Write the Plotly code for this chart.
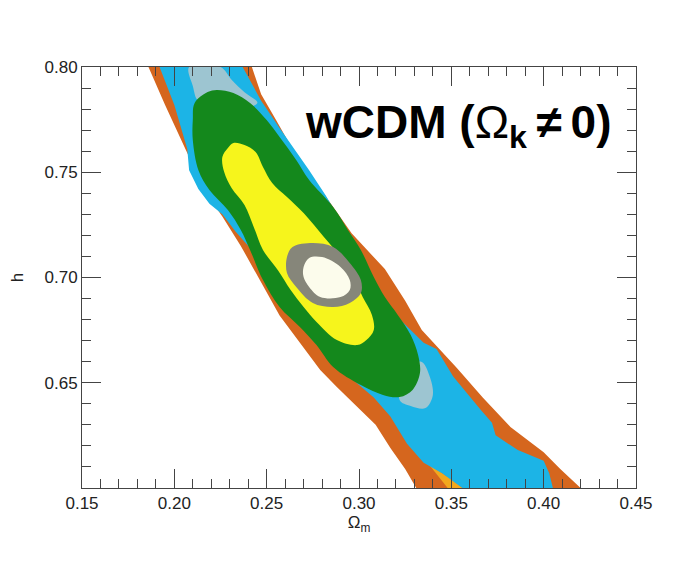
import plotly.graph_objects as go

# Contour region boundaries (Omega_m, h)
orange_om = [0.186, 0.195, 0.206, 0.214, 0.222, 0.226, 0.236, 0.246, 0.257, 0.268, 0.279, 0.288, 0.301, 0.309, 0.317, 0.325, 0.331,
             0.420, 0.409, 0.400, 0.382, 0.367, 0.353, 0.334, 0.325, 0.314, 0.296, 0.279, 0.264, 0.255, 0.247, 0.242]
orange_h = [0.800, 0.782, 0.761, 0.746, 0.734, 0.729, 0.715, 0.699, 0.682, 0.669, 0.656, 0.648, 0.637, 0.630, 0.619, 0.609, 0.600,
            0.600, 0.609, 0.617, 0.629, 0.643, 0.657, 0.675, 0.689, 0.704, 0.721, 0.742, 0.761, 0.775, 0.787, 0.800]

amber_om = [0.338, 0.342, 0.349, 0.356, 0.348]
amber_h = [0.611, 0.6086, 0.6048, 0.600, 0.600]

cyan_om = [0.192, 0.200, 0.207, 0.208, 0.213, 0.219, 0.226, 0.233, 0.244, 0.252, 0.263, 0.273, 0.288, 0.308, 0.317, 0.326, 0.335, 0.345, 0.356,
           0.405, 0.403, 0.400, 0.386, 0.374, 0.372, 0.366, 0.351, 0.342, 0.335, 0.328, 0.320, 0.311, 0.305, 0.301, 0.295, 0.290, 0.282, 0.273, 0.264, 0.257, 0.247, 0.237]
cyan_h = [0.800, 0.782, 0.761, 0.751, 0.742, 0.735, 0.730, 0.722, 0.711, 0.699, 0.685, 0.672, 0.658, 0.643, 0.634, 0.621, 0.612, 0.607, 0.600,
          0.600, 0.607, 0.613, 0.618, 0.625, 0.631, 0.637, 0.653, 0.666, 0.669, 0.675, 0.682, 0.691, 0.700, 0.713, 0.720, 0.727, 0.739, 0.751, 0.762, 0.771, 0.784, 0.800]

paleblue_top_om = [0.208, 0.225, 0.231, 0.238, 0.245, 0.236, 0.222, 0.213, 0.210]
paleblue_top_h = [0.800, 0.800, 0.794, 0.788, 0.783, 0.780, 0.784, 0.784, 0.791]

paleblue_low_om = [0.328, 0.334, 0.338, 0.340, 0.336, 0.328, 0.322]
paleblue_low_h = [0.6584, 0.6599, 0.6537, 0.6442, 0.6380, 0.6390, 0.6418]

green_om = [0.211, 0.218, 0.223, 0.232, 0.241, 0.250, 0.257, 0.266, 0.273, 0.286, 0.294, 0.301, 0.308, 0.314, 0.321, 0.328, 0.332, 0.333,
            0.329, 0.322, 0.313, 0.301, 0.286, 0.277, 0.268, 0.257, 0.248, 0.241, 0.236, 0.229, 0.219, 0.213, 0.210, 0.210]
green_h = [0.7829, 0.7881, 0.7891, 0.7876, 0.7829, 0.7748, 0.7667, 0.7558, 0.7463, 0.7335, 0.7226, 0.7131, 0.7002, 0.6907, 0.6822, 0.6727, 0.6632, 0.6546,
           0.6466, 0.6432, 0.6442, 0.6489, 0.6575, 0.6679, 0.6765, 0.6860, 0.6988, 0.7131, 0.7226, 0.7321, 0.7416, 0.7511, 0.7653, 0.7748]

yellow_om = [0.232, 0.238, 0.244, 0.248, 0.253, 0.261, 0.270, 0.281, 0.290, 0.297, 0.302, 0.307, 0.308, 0.304, 0.299,
             0.288, 0.277, 0.270, 0.263, 0.256, 0.248, 0.243, 0.238, 0.231, 0.227, 0.226, 0.229]
yellow_h = [0.7639, 0.7629, 0.7596, 0.7525, 0.7449, 0.7382, 0.7306, 0.7192, 0.7097, 0.7002, 0.6907, 0.6822, 0.6751, 0.6703, 0.6679,
            0.6703, 0.6789, 0.6860, 0.6941, 0.7036, 0.7131, 0.7240, 0.7344, 0.7425, 0.7501, 0.7572, 0.7615]

gray_om = [0.261, 0.264, 0.275, 0.286, 0.295, 0.301, 0.301, 0.295, 0.286, 0.275, 0.266, 0.261]
gray_h = [0.7097, 0.7145, 0.7164, 0.7145, 0.7069, 0.6988, 0.6926, 0.6879, 0.6860, 0.6879, 0.6955, 0.7021]

cream_om = [0.270, 0.273, 0.280, 0.290, 0.295, 0.295, 0.290, 0.279, 0.273, 0.270]
cream_h = [0.7050, 0.7093, 0.7097, 0.7050, 0.6988, 0.6941, 0.6907, 0.6907, 0.6955, 0.7002]

x_ticks = [0.15, 0.20, 0.25, 0.30, 0.35, 0.40, 0.45]
x_labels = ["0.15", "0.20", "0.25", "0.30", "0.35", "0.40", "0.45"]
y_ticks = [0.65, 0.70, 0.75, 0.80]
y_labels = ["0.65", "0.70", "0.75", "0.80"]

layers = [
    (orange_om, orange_h, "#D5661E", "linear"),
    (amber_om, amber_h, "#F2A81E", "linear"),
    (cyan_om, cyan_h, "#1CB4E6", "linear"),
    (paleblue_top_om, paleblue_top_h, "#9DC5D1", "spline"),
    (paleblue_low_om, paleblue_low_h, "#9DC5D1", "spline"),
    (green_om, green_h, "#14881C", "spline"),
    (yellow_om, yellow_h, "#F6F51C", "spline"),
    (gray_om, gray_h, "#86867A", "spline"),
    (cream_om, cream_h, "#FCFCEC", "spline"),
]

FONT = "Liberation Sans, Arial, sans-serif"

fig = go.Figure()
for xs, ys, col, shape in layers:
    fig.add_trace(go.Scatter(
        x=xs + xs[:1], y=ys + ys[:1], mode="lines", fill="toself",
        fillcolor=col, line=dict(width=0, color=col, shape=shape),
        hoverinfo="skip", showlegend=False,
    ))

axis_common = dict(
    showgrid=False, zeroline=False, showline=True, linecolor="#444", linewidth=1,
    mirror="ticks", ticks="inside", ticklen=19, tickwidth=1, tickcolor="#444",
    tickfont=dict(family=FONT, size=17, color="#222"), automargin=False,
)

fig.update_xaxes(
    range=[0.15, 0.45], tickmode="array", tickvals=x_ticks, ticktext=x_labels,
    minor=dict(dtick=0.01, ticks="inside", ticklen=9, tickcolor="#444", tickwidth=1),
    title=dict(text="Ω<sub>m</sub>", font=dict(family=FONT, size=17, color="#222"), standoff=0),
    **axis_common,
)
fig.update_yaxes(
    range=[0.60, 0.80], tickmode="array", tickvals=y_ticks, ticktext=y_labels,
    minor=dict(dtick=0.01, ticks="inside", ticklen=9, tickcolor="#444", tickwidth=1),
    title=dict(text="h", font=dict(family=FONT, size=17, color="#222"), standoff=18),
    **axis_common,
)

fig.add_annotation(
    x=1.0, y=0.862, xref="paper", yref="paper", xanchor="right", yanchor="middle",
    xshift=-22,
    text="<b>wCDM (</b>Ω<b><sub>k</sub>\u2009≠\u20090)</b>", showarrow=False,
    font=dict(family=FONT, size=46, color="black"),
)

fig.update_layout(
    width=691, height=563,
    margin=dict(l=74, r=63, t=59, b=83),
    paper_bgcolor="white", plot_bgcolor="white",
    showlegend=False,
)

fig.write_html("out.html")
